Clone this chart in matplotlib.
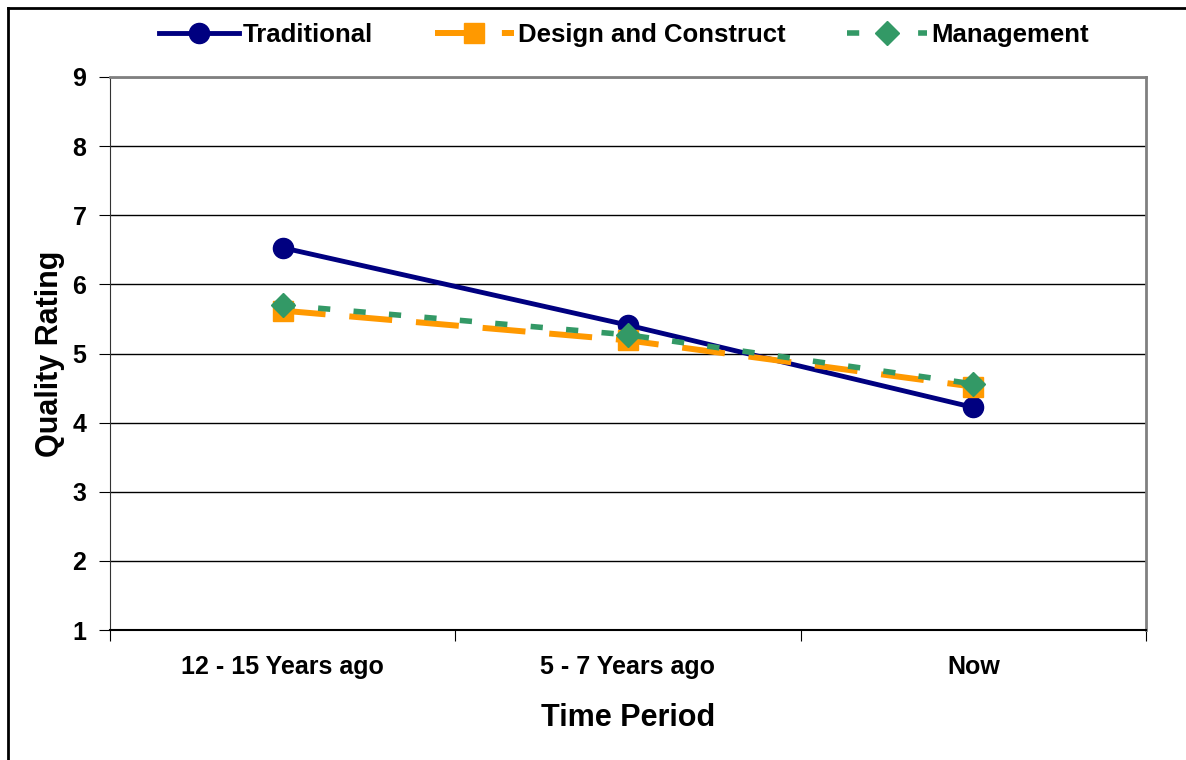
import matplotlib.pyplot as plt
from matplotlib.lines import Line2D

plt.rcParams['font.family'] = ['Liberation Sans', 'DejaVu Sans']
plt.rcParams['font.weight'] = 'bold'

periods = ["12 - 15 Years ago", "5 - 7 Years ago", "Now"]
traditional = [6.53, 5.41, 4.22]
design_construct = [5.62, 5.19, 4.52]
management = [5.70, 5.27, 4.56]

navy = '#000080'
orange = '#FF9900'
green = '#339966'

trad_style = dict(color=navy, lw=3.5, marker='o', ms=14.5)
dc_style = dict(color=orange, lw=4.3, dashes=(7.2, 4.0), marker='s', ms=14)
mgmt_style = dict(color=green, lw=4, dashes=(2.2, 4.2), marker='D', ms=12)

fig = plt.figure(figsize=(11.86, 7.6), dpi=100)
ax = fig.add_axes([110 / 1186, 1 - 630 / 760, 1036 / 1186, 553 / 760])

x = range(len(periods))
ax.plot(x, traditional, zorder=3, **trad_style)
ax.plot(x, design_construct, zorder=4, **dc_style)
ax.plot(x, management, zorder=5, **mgmt_style)

ax.set_xlim(-0.5, 2.5)
ax.set_ylim(1, 9)
ax.set_yticks(range(1, 10))
ax.set_xticks(list(x))
ax.set_xticklabels(periods)
ax.set_xticks([-0.5, 0.5, 1.5, 2.5], minor=True)
ax.tick_params(axis='x', which='major', length=0, pad=18, labelsize=18)
ax.tick_params(axis='x', which='minor', length=8, width=0.8, direction='out')
ax.tick_params(axis='y', length=8, width=0.8, direction='out', pad=9, labelsize=18)

ax.grid(axis='y', color='black', lw=1)
ax.set_axisbelow(True)
for side in ('top', 'right'):
    ax.spines[side].set_color('#808080')
    ax.spines[side].set_linewidth(2)
ax.spines['left'].set_color('#333333')
ax.spines['bottom'].set_color('black')
ax.spines['bottom'].set_linewidth(1.5)

ax.set_xlabel("Time Period", fontsize=22, fontweight='bold', labelpad=17)
ax.set_ylabel("Quality Rating", fontsize=22, fontweight='bold', labelpad=5)

handles = [Line2D([], [], **trad_style), Line2D([], [], **dc_style),
           Line2D([], [], **mgmt_style)]
fig.legend(handles, ["Traditional", "Design and Construct", "Management"],
           loc='center', bbox_to_anchor=(0.526, 1 - 35 / 760), ncol=3, frameon=False,
           fontsize=18.5, handlelength=3.1, handletextpad=0.15, columnspacing=2.4)

# outer chart border
fig.add_artist(Line2D([8 / 1186, 8 / 1186], [0, 1 - 8 / 760], color='black', lw=2,
                      transform=fig.transFigure))
fig.add_artist(Line2D([8 / 1186, 1], [1 - 8 / 760, 1 - 8 / 760], color='black', lw=2,
                      transform=fig.transFigure))

fig.savefig('out.png', dpi=100)
